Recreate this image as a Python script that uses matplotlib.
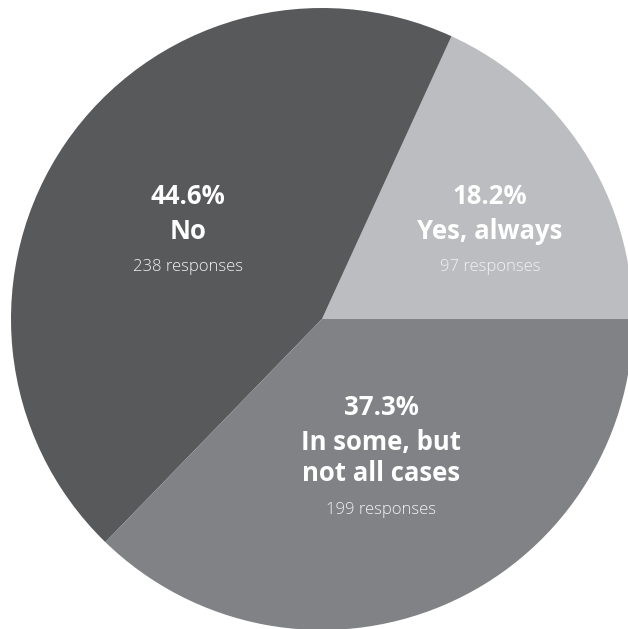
import matplotlib
matplotlib.use("Agg")
import matplotlib.pyplot as plt

# survey answers, counterclockwise from 3 o'clock
answers = ["Yes, always", "No", "In some, but\nnot all cases"]
responses = [97, 238, 199]
percents = ["18.2%", "44.6%", "37.3%"]
colors = ["#bcbdc0", "#58595b", "#808285"]

# label anchors (centre of the first text line), in pie radius units
label_pos = [(0.54, 0.394), (-0.43, 0.394), (0.19, -0.284)]

fig = plt.figure(figsize=(6.28, 6.29), dpi=100)
# pie is 622 px across, centred at (322, 319) from the top left corner
ax = fig.add_axes([11 / 628, (629 - 630) / 629, 622 / 628, 622 / 629])
ax.pie(responses, colors=colors, startangle=0, counterclock=True,
       radius=1.0, wedgeprops=dict(linewidth=0))
ax.set_xlim(-1, 1)
ax.set_ylim(-1, 1)
ax.set_aspect("equal")
ax.axis("off")

bold = dict(family="Open Sans", weight="bold", size=18.5, color="white",
            ha="center", va="center")
light = dict(family="Open Sans", weight="light", size=12, color="#f2f2f2",
             ha="center", va="center")

for name, n, pct, (x, y) in zip(answers, responses, percents, label_pos):
    ax.annotate(pct, (x, y), xytext=(0, 0), textcoords="offset points", **bold)
    lines = name.split("\n")
    dy = -25
    for i, line in enumerate(lines):
        ax.annotate(line, (x, y), xytext=(0, dy),
                    textcoords="offset points", **bold)
        dy -= 23
    ax.annotate(f"{n} responses", (x, y), xytext=(0, dy - 3),
                textcoords="offset points", **light)

fig.savefig("out.png", dpi=100, facecolor="white")
